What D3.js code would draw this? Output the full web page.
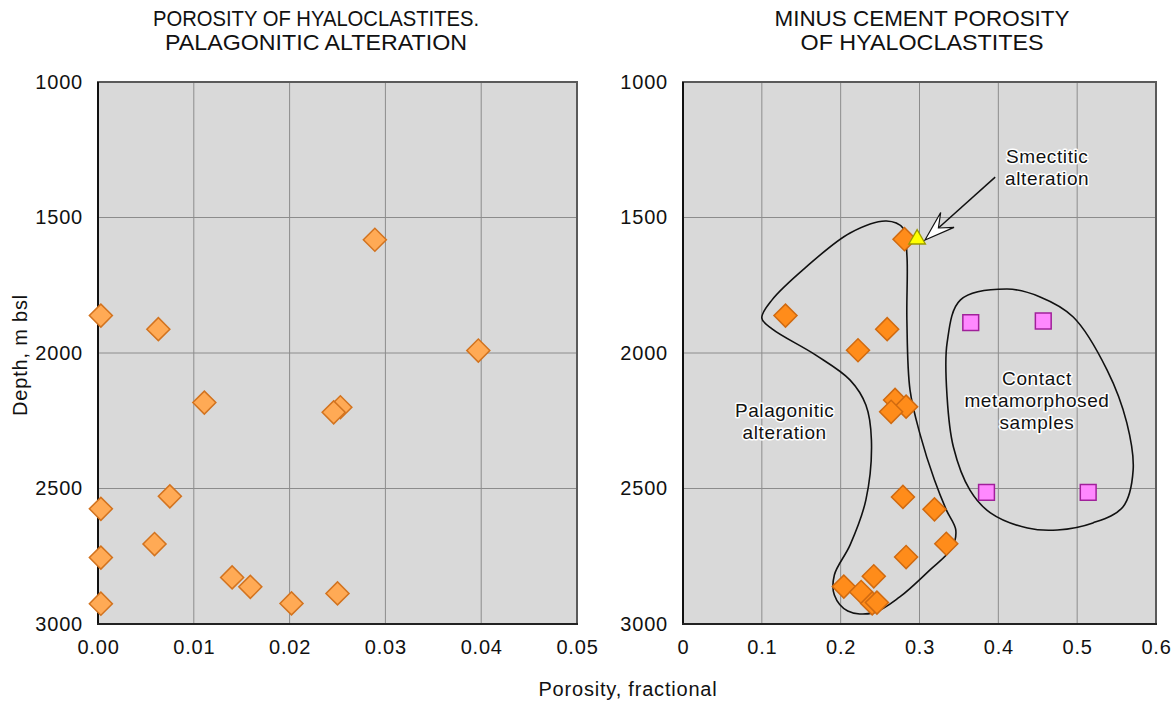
<!DOCTYPE html>
<html>
<head>
<meta charset="utf-8">
<script src="https://cdn.jsdelivr.net/npm/d3@7"></script>
<style>
  body { margin: 0; background: #fff; }
  text { font-family: "Liberation Sans", Arial, sans-serif; fill: #111; }
  .title { font-size: 22px; }
  .tick-label { font-size: 20px; letter-spacing: 0.8px; }
  .note { font-size: 19px; letter-spacing: 0.6px; paint-order: stroke; stroke: #fff; stroke-width: 3px; stroke-linejoin: round; }
</style>
</head>
<body>
<div id="canvas"></div>
<script>
// Grafica izquierda: porosidad, alteracion palagonitica
const leftPorosity = [0.0289, 0.0003, 0.0063, 0.0397, 0.0111, 0.0253, 0.0246, 0.0075,
                      0.0003, 0.0059, 0.0003, 0.0140, 0.0159, 0.0250, 0.0003, 0.0202];
const leftDepth = [1582, 1862, 1912, 1991, 2183, 2200, 2219, 2529,
                   2575, 2705, 2755, 2828, 2863, 2887, 2925, 2924];

// Grafica derecha: porosidad menos cemento
const palagPorosity = [0.281, 0.130, 0.259, 0.222, 0.269, 0.283, 0.264, 0.279,
                       0.319, 0.334, 0.283, 0.242, 0.204, 0.226, 0.240, 0.246];
const palagDepth = [1580, 1862, 1912, 1990, 2173, 2198, 2217, 2531,
                    2577, 2704, 2753, 2824, 2862, 2882, 2924, 2921];
const contactPorosity = [0.365, 0.457, 0.385, 0.514];
const contactDepth = [1888, 1882, 2514, 2514];
const smectiticPorosity = [0.297];
const smectiticDepth = [1580];

// Contornos dibujados a mano (porosidad, profundidad)
const palagOutline = [[0.258, 1513], [0.212, 1557], [0.155, 1686], [0.113, 1804], [0.100, 1871],
  [0.113, 1911], [0.168, 2007], [0.212, 2100], [0.232, 2192], [0.239, 2321], [0.232, 2542],
  [0.212, 2708], [0.192, 2819], [0.192, 2893], [0.209, 2952], [0.241, 2959], [0.275, 2900],
  [0.313, 2801], [0.341, 2720], [0.346, 2653], [0.334, 2579], [0.319, 2469], [0.301, 2303],
  [0.288, 2137], [0.284, 1878], [0.284, 1638], [0.279, 1539]];
const contactOutline = [[0.411, 1764], [0.352, 1804], [0.335, 1963], [0.335, 2162], [0.343, 2347],
  [0.364, 2506], [0.390, 2590], [0.437, 2646], [0.475, 2653], [0.520, 2627], [0.558, 2568],
  [0.571, 2432], [0.563, 2258], [0.538, 2063], [0.495, 1867], [0.453, 1793]];

// Ejes
const depthTicks = [1000, 1500, 2000, 2500, 3000];
const leftXTicks = [0, 0.01, 0.02, 0.03, 0.04, 0.05];
const rightXTicks = [0, 0.1, 0.2, 0.3, 0.4, 0.5, 0.6];

const width = 1172, height = 703;
const svg = d3.select("#canvas").append("svg")
    .attr("width", width).attr("height", height);

const y = d3.scaleLinear().domain([1000, 3000]).range([82, 624]);
const xL = d3.scaleLinear().domain([0, 0.05]).range([98, 577]);
const xR = d3.scaleLinear().domain([0, 0.6]).range([683, 1156]);

function panel(x, xTicks, fmt) {
    const g = svg.append("g");
    const [x0, x1] = x.range();
    const [y0, y1] = y.range();
    g.append("rect").attr("x", x0).attr("y", y0)
        .attr("width", x1 - x0).attr("height", y1 - y0)
        .attr("fill", "#d9d9d9");
    // rejilla
    g.selectAll(".gx").data(xTicks.slice(1, -1)).enter().append("line")
        .attr("x1", d => x(d)).attr("x2", d => x(d))
        .attr("y1", y0).attr("y2", y1)
        .attr("stroke", "#8c8c8c").attr("stroke-width", 1);
    g.selectAll(".gy").data(depthTicks.slice(1, -1)).enter().append("line")
        .attr("x1", x0).attr("x2", x1)
        .attr("y1", d => y(d)).attr("y2", d => y(d))
        .attr("stroke", "#8c8c8c").attr("stroke-width", 1);
    g.append("rect").attr("x", x0).attr("y", y0)
        .attr("width", x1 - x0).attr("height", y1 - y0)
        .attr("fill", "none").attr("stroke", "#5a5a5a").attr("stroke-width", 2);
    // ejes izquierdo e inferior
    g.append("line").attr("x1", x0).attr("x2", x0).attr("y1", y0).attr("y2", y1 + 1)
        .attr("stroke", "#111").attr("stroke-width", 2);
    g.append("line").attr("x1", x0 - 1).attr("x2", x1 + 1).attr("y1", y1).attr("y2", y1)
        .attr("stroke", "#222").attr("stroke-width", 2);

    const ax = g.append("g").attr("transform", `translate(0, ${y1 + 13})`)
        .call(d3.axisBottom(x).tickValues(xTicks).tickFormat(fmt).tickSize(0));
    ax.select(".domain").remove();
    ax.selectAll("text").attr("class", "tick-label").attr("fill", "#111");

    const ay = g.append("g").attr("transform", `translate(${x0 - 12}, 0)`)
        .call(d3.axisLeft(y).tickValues(depthTicks).tickFormat(d3.format("d")).tickSize(0));
    ay.select(".domain").remove();
    ay.selectAll("text").attr("class", "tick-label").attr("fill", "#111");
    return g;
}

const gL = panel(xL, leftXTicks, d3.format(".2f"));
const gR = panel(xR, rightXTicks, d => d === 0 ? "0" : d3.format(".1f")(d));

// Contornos
const outline = d3.line().x(d => xR(d[0])).y(d => y(d[1])).curve(d3.curveCatmullRomClosed.alpha(0.5));
gR.append("path").attr("d", outline(palagOutline))
    .attr("fill", "none").attr("stroke", "#111").attr("stroke-width", 1.6);
gR.append("path").attr("d", outline(contactOutline))
    .attr("fill", "none").attr("stroke", "#111").attr("stroke-width", 1.6);

// Marcadores
const diamond = d3.symbol().type(d3.symbolSquare).size(265)();
gL.selectAll(".pt").data(leftPorosity).enter().append("path")
    .attr("d", diamond)
    .attr("transform", (d, i) => `translate(${xL(d)}, ${y(leftDepth[i])}) rotate(45)`)
    .attr("fill", "#ffaa55").attr("stroke", "#d2731f").attr("stroke-width", 1.5);

gR.selectAll(".pt").data(palagPorosity).enter().append("path")
    .attr("d", diamond)
    .attr("transform", (d, i) => `translate(${xR(d)}, ${y(palagDepth[i])}) rotate(45)`)
    .attr("fill", "#ff8c1a").attr("stroke", "#d06a10").attr("stroke-width", 1.5);

gR.selectAll(".sq").data(contactPorosity).enter().append("path")
    .attr("d", d3.symbol().type(d3.symbolSquare).size(250)())
    .attr("transform", (d, i) => `translate(${xR(d)}, ${y(contactDepth[i])})`)
    .attr("fill", "#ff88ff").attr("stroke", "#a0209a").attr("stroke-width", 1.5);

gR.selectAll(".tri").data(smectiticPorosity).enter().append("path")
    .attr("d", d3.symbol().type(d3.symbolTriangle).size(120)())
    .attr("transform", (d, i) => `translate(${xR(d)}, ${y(smectiticDepth[i])})`)
    .attr("fill", "#ffff00").attr("stroke", "#9a9a00").attr("stroke-width", 1.3);

// Flecha hacia la alteracion esmectitica
const tail = [xR(0.396), y(1351)], tip = [xR(0.307), y(1583)];
const dx = tip[0] - tail[0], dy = tip[1] - tail[1], len = Math.hypot(dx, dy);
const ux = dx / len, uy = dy / len, nx = -uy, ny = ux;
const L = 30, W = 10;
gR.append("line")
    .attr("x1", tail[0]).attr("y1", tail[1])
    .attr("x2", tip[0] - ux * 18).attr("y2", tip[1] - uy * 18)
    .attr("stroke", "#111").attr("stroke-width", 1.5);
gR.append("path")
    .attr("d", d3.line()([
        tip,
        [tip[0] - ux * L + nx * W, tip[1] - uy * L + ny * W],
        [tip[0] - ux * L * 0.6, tip[1] - uy * L * 0.6],
        [tip[0] - ux * L - nx * W, tip[1] - uy * L - ny * W]
    ]) + "Z")
    .attr("fill", "#fff").attr("stroke", "#111").attr("stroke-width", 1.2).attr("stroke-linejoin", "miter");

// Notas
function note(lines, px, depth) {
    const t = gR.append("text").attr("class", "note").attr("text-anchor", "middle");
    lines.forEach((s, i) => {
        t.append("tspan").attr("x", xR(px)).attr("y", y(depth) + i * 22).attr("dy", "0.35em").text(s);
    });
}
note(["Smectitic", "alteration"], 0.462, 1273);
note(["Palagonitic", "alteration"], 0.129, 2210);
note(["Contact", "metamorphosed", "samples"], 0.449, 2092);

// Titulos (letra condensada: se ajusta el ancho de cada linea)
const titles = [
    { x: 316, lines: ["POROSITY OF HYALOCLASTITES.", "PALAGONITIC ALTERATION"], widths: [326, 302] },
    { x: 922, lines: ["MINUS CEMENT POROSITY", "OF HYALOCLASTITES"], widths: [295, 243] }
];
titles.forEach(tt => {
    tt.lines.forEach((s, i) => {
        svg.append("text").attr("class", "title").attr("text-anchor", "middle")
            .attr("x", tt.x).attr("y", 26 + i * 24)
            .attr("textLength", tt.widths[i]).attr("lengthAdjust", "spacingAndGlyphs")
            .text(s);
    });
});

// Etiquetas de los ejes
svg.append("text").attr("class", "tick-label").attr("text-anchor", "middle")
    .attr("x", 628).attr("y", 696).text("Porosity, fractional");
svg.append("text").attr("class", "tick-label").attr("text-anchor", "middle")
    .attr("transform", "translate(27, 355) rotate(-90)").text("Depth, m bsl");
</script>
</body>
</html>
